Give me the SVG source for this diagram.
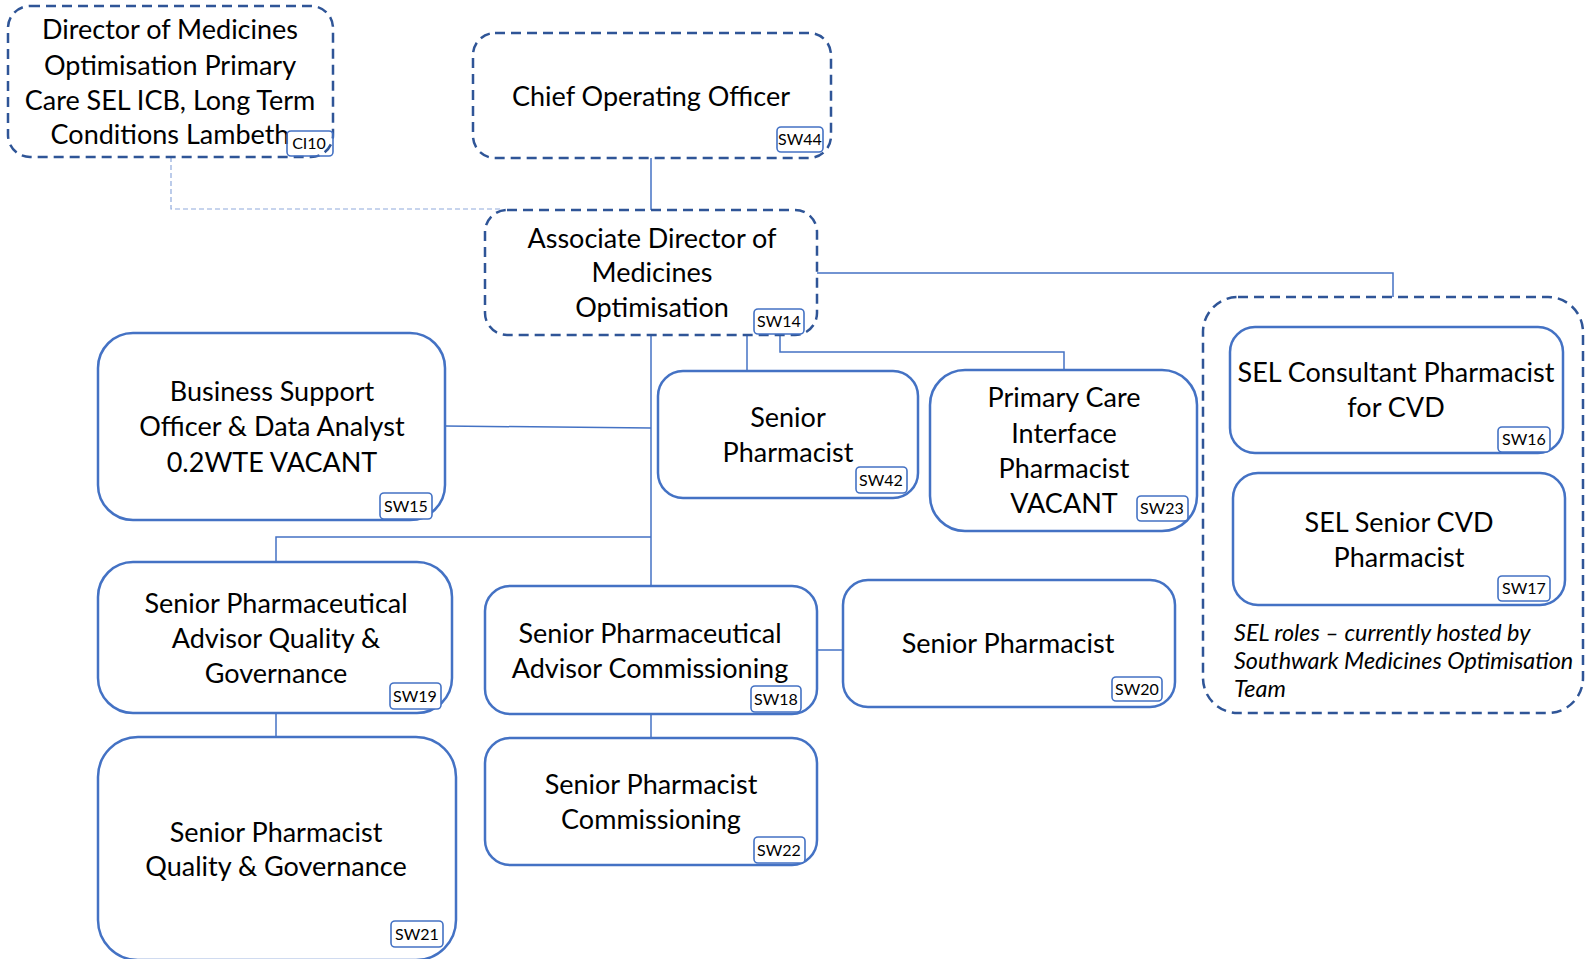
<svg xmlns="http://www.w3.org/2000/svg" width="1585" height="959" viewBox="0 0 1585 959">
<style>
.solid{fill:#fff;stroke:#4472C4;stroke-width:2.5}
.dash{fill:#fff;stroke:#2F5597;stroke-width:2.5;stroke-dasharray:10 6}
.badge{fill:#fff;stroke:#4472C4;stroke-width:1.6}
.t{font-family:Lato,"Liberation Sans",sans-serif;font-size:27px;fill:#000;text-anchor:middle}
.b{font-family:Lato,"Liberation Sans",sans-serif;font-size:16px;fill:#000;text-anchor:middle}
.i{font-family:Lato,"Liberation Sans",sans-serif;font-size:23.4px;font-style:italic;fill:#000}
.c{fill:none;stroke:#4472C4;stroke-width:1.5}
.cd{fill:none;stroke:#8FAADC;stroke-width:1.2;stroke-dasharray:5 3}
</style>
<rect width="1585" height="959" fill="#fff"/>
<g id="connectors">
<path class="cd" d="M171,157 V209 H500"/>
<path class="c" d="M651,158 V210"/>
<path class="c" d="M651,335 V586"/>
<path class="c" d="M445,426 L651,428"/>
<path class="c" d="M651,537 H276 V562"/>
<path class="c" d="M747,335 V371"/>
<path class="c" d="M780,334 V352 H1064 V370"/>
<path class="c" d="M817,273 H1393 V297"/>
<path class="c" d="M817,650 H843"/>
<path class="c" d="M276,713 V737"/>
<path class="c" d="M651,714 V738"/>
</g>
<g id="director">
<rect class="dash" x="8" y="6" width="325" height="151" rx="22"/>
<text class="t" x="170" y="39">Director of Medicines</text>
<text class="t" x="170" y="75">Optimisation Primary</text>
<text class="t" x="170" y="110">Care SEL ICB, Long Term</text>
<text class="t" x="170" y="144">Conditions Lambeth</text>
<rect class="badge" x="287" y="131" width="46" height="25" rx="4" fill-opacity="0"/>
<text class="b" x="309" y="149">CI10</text>
</g>
<g id="coo">
<rect class="dash" x="473" y="33" width="358" height="125" rx="22"/>
<text class="t" x="651" y="106">Chief Operating Officer</text>
<rect class="badge" x="777" y="127" width="46" height="25" rx="4"/>
<text class="b" x="800" y="145">SW44</text>
</g>
<g id="assoc-director">
<rect class="dash" x="485" y="210" width="332" height="125" rx="22"/>
<text class="t" x="652" y="248">Associate Director of</text>
<text class="t" x="652" y="282">Medicines</text>
<text class="t" x="652" y="317">Optimisation</text>
<rect class="badge" x="754" y="309" width="50" height="25" rx="4"/>
<text class="b" x="779" y="327">SW14</text>
</g>
<g id="business-support">
<rect class="solid" x="98" y="333" width="347" height="187" rx="35"/>
<text class="t" x="272" y="401">Business Support</text>
<text class="t" x="272" y="436">Officer &amp; Data Analyst</text>
<text class="t" x="272" y="472">0.2WTE VACANT</text>
<rect class="badge" x="380" y="493" width="52" height="26" rx="4"/>
<text class="b" x="406" y="512">SW15</text>
</g>
<g id="senior-pharmacist-sw42">
<rect class="solid" x="658" y="371" width="260" height="127" rx="25"/>
<text class="t" x="788" y="427">Senior</text>
<text class="t" x="788" y="462">Pharmacist</text>
<rect class="badge" x="856" y="467" width="51" height="26" rx="4"/>
<text class="b" x="881" y="486">SW42</text>
</g>
<g id="primary-care-interface">
<rect class="solid" x="930" y="370" width="267" height="161" rx="35"/>
<text class="t" x="1064" y="407">Primary Care</text>
<text class="t" x="1064" y="443">Interface</text>
<text class="t" x="1064" y="478">Pharmacist</text>
<text class="t" x="1064" y="513">VACANT</text>
<rect class="badge" x="1137" y="496" width="51" height="25" rx="4"/>
<text class="b" x="1162" y="514">SW23</text>
</g>
<g id="sel-group">
<rect class="dash" x="1203" y="297" width="380" height="416" rx="35"/>
<text class="i" x="1234" y="641">SEL roles – currently hosted by</text>
<text class="i" x="1234" y="669">Southwark Medicines Optimisation</text>
<text class="i" x="1234" y="697">Team</text>
</g>
<g id="sel-consultant">
<rect class="solid" x="1230" y="327" width="333" height="126" rx="25"/>
<text class="t" x="1396" y="382">SEL Consultant Pharmacist</text>
<text class="t" x="1396" y="417">for CVD</text>
<rect class="badge" x="1498" y="427" width="52" height="25" rx="4"/>
<text class="b" x="1524" y="445">SW16</text>
</g>
<g id="sel-senior-cvd">
<rect class="solid" x="1233" y="473" width="332" height="132" rx="25"/>
<text class="t" x="1399" y="532">SEL Senior CVD</text>
<text class="t" x="1399" y="567">Pharmacist</text>
<rect class="badge" x="1498" y="576" width="52" height="25" rx="4"/>
<text class="b" x="1524" y="594">SW17</text>
</g>
<g id="spa-quality">
<rect class="solid" x="98" y="562" width="354" height="151" rx="35"/>
<text class="t" x="276" y="613">Senior Pharmaceutical</text>
<text class="t" x="276" y="648">Advisor Quality &amp;</text>
<text class="t" x="276" y="683">Governance</text>
<rect class="badge" x="390" y="683" width="51" height="26" rx="4"/>
<text class="b" x="415" y="702">SW19</text>
</g>
<g id="spa-commissioning">
<rect class="solid" x="485" y="586" width="332" height="128" rx="25"/>
<text class="t" x="650" y="643">Senior Pharmaceutical</text>
<text class="t" x="650" y="678">Advisor Commissioning</text>
<rect class="badge" x="751" y="686" width="50" height="26" rx="4"/>
<text class="b" x="776" y="705">SW18</text>
</g>
<g id="senior-pharmacist-sw20">
<rect class="solid" x="843" y="580" width="332" height="127" rx="25"/>
<text class="t" x="1008" y="653">Senior Pharmacist</text>
<rect class="badge" x="1112" y="677" width="50" height="24" rx="4"/>
<text class="b" x="1137" y="695">SW20</text>
</g>
<g id="sp-quality">
<rect class="solid" x="98" y="737" width="358" height="223" rx="40"/>
<text class="t" x="276" y="842">Senior Pharmacist</text>
<text class="t" x="276" y="876">Quality &amp; Governance</text>
<rect class="badge" x="391" y="921" width="52" height="26" rx="4"/>
<text class="b" x="417" y="940">SW21</text>
</g>
<g id="sp-commissioning">
<rect class="solid" x="485" y="738" width="332" height="127" rx="25"/>
<text class="t" x="651" y="794">Senior Pharmacist</text>
<text class="t" x="651" y="829">Commissioning</text>
<rect class="badge" x="754" y="837" width="51" height="26" rx="4"/>
<text class="b" x="779" y="856">SW22</text>
</g>
</svg>
